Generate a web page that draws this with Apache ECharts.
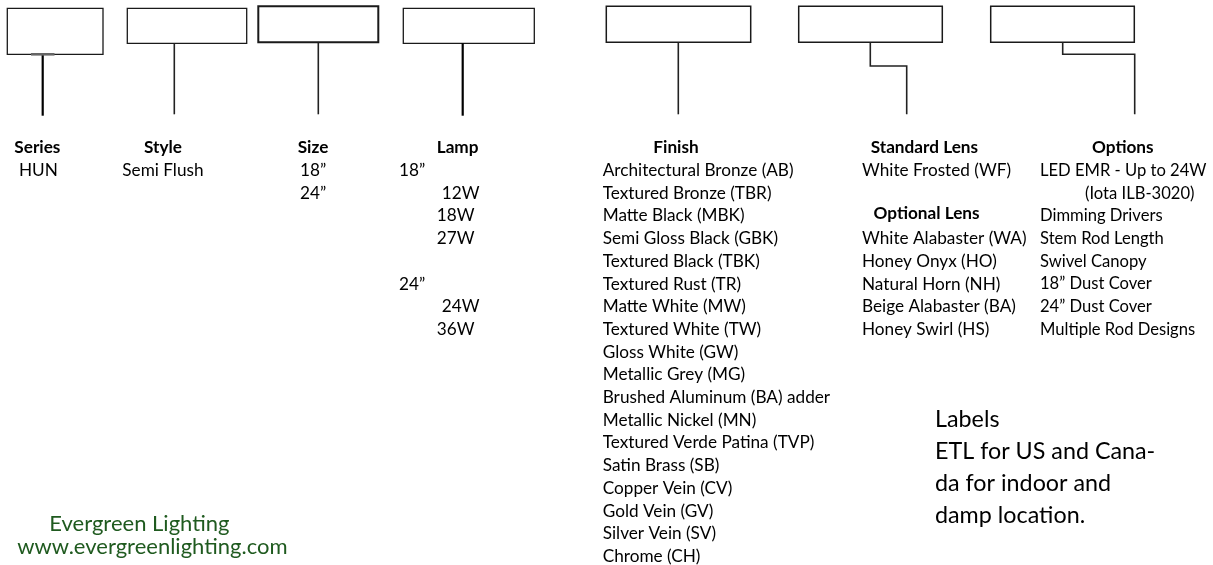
<!DOCTYPE html>
<html>
<head>
<meta charset="utf-8">
<script src="https://cdn.jsdelivr.net/npm/echarts@6/dist/echarts.min.js"></script>
<style>
html,body{margin:0;padding:0;background:#fff;}
#chart{width:1213px;height:565px;}
</style>
</head>
<body>
<div id="chart"></div>
<script>
// ---- content ----
const headings = ['Series', 'Style', 'Size', 'Lamp', 'Finish', 'Standard Lens', 'Optional Lens', 'Options'];
const seriesCol = ['HUN'];
const styleCol = ['Semi Flush'];
const sizeCol = ['18”', '24”'];
const lampCol = ['18”', '12W', '18W', '27W', '', '24”', '24W', '36W'];
const finishCol = [
  'Architectural Bronze (AB)', 'Textured Bronze (TBR)', 'Matte Black (MBK)', 'Semi Gloss Black (GBK)',
  'Textured Black (TBK)', 'Textured Rust (TR)', 'Matte White (MW)', 'Textured White (TW)',
  'Gloss White (GW)', 'Metallic Grey (MG)', 'Brushed Aluminum (BA) adder', 'Metallic Nickel (MN)',
  'Textured Verde Patina (TVP)', 'Satin Brass (SB)', 'Copper Vein (CV)', 'Gold Vein (GV)',
  'Silver Vein (SV)', 'Chrome (CH)'
];
const standardLensCol = ['White Frosted (WF)'];
const optionalLensCol = ['White Alabaster (WA)', 'Honey Onyx (HO)', 'Natural Horn (NH)', 'Beige Alabaster (BA)', 'Honey Swirl (HS)'];
const optionsCol = ['LED EMR - Up to 24W', '(Iota ILB-3020)', 'Dimming Drivers', 'Stem Rod Length', 'Swivel Canopy', '18” Dust Cover', '24” Dust Cover', 'Multiple Rod Designs'];
const labelNote = ['Labels', 'ETL for US and Cana-', 'da for indoor and', 'damp location.'];
const brand = ['Evergreen Lighting', 'www.evergreenlighting.com'];

// ---- layout (pixel space of the hidden axes) ----
const ROW0 = 170.5, ROWH = 22.7, HEADY = 147;
const FONT = 'Lato';
const BODY = 17.2, NOTE = 23.3, BRAND = 22;
const headPos = [[14.3, HEADY], [144, HEADY], [297.7, HEADY], [436.7, HEADY], [653.3, HEADY], [870.7, HEADY], [873.5, 213], [1092, HEADY]];
const columns = [
  { items: seriesCol, x: 19, start: 0 },
  { items: styleCol, x: 122.3, start: 0 },
  { items: sizeCol, x: 300, start: 0 },
  { items: lampCol, x: 399, start: 0, indent: [0, 42.7, 37.7, 37.7, 0, 0, 42.7, 37.7] },
  { items: finishCol, x: 602.7, start: 0 },
  { items: standardLensCol, x: 862, start: 0 },
  { items: optionalLensCol, x: 862, start: 3 },
  { items: optionsCol, x: 1040, start: 0, size: 16.6, indent: [0, 45, 0, 0, 0, 0, 0, 0] }
];
const boxes = [
  { r: [7.3, 8.3, 103, 54.3], w: 1.3 },
  { r: [127.3, 8.3, 246.7, 43.3], w: 1.3 },
  { r: [258.3, 6.3, 378.3, 42.3], w: 2 },
  { r: [403.3, 8.3, 534.3, 43.3], w: 1.3 },
  { r: [606.3, 6.3, 750.7, 42.3], w: 1.5 },
  { r: [798.7, 6.3, 942.3, 42.3], w: 1.5 },
  { r: [990.7, 6.3, 1134.3, 42.3], w: 1.5 }
];
const links = [
  { p: [[42.7, 54.3], [42.7, 115.7]], w: 2.2, c: '#000' },
  { p: [[174.3, 43.3], [174.3, 114.3]], w: 1.6, c: '#222' },
  { p: [[318.3, 42.3], [318.3, 114.3]], w: 1.6, c: '#222' },
  { p: [[462.7, 43.3], [462.7, 115.7]], w: 2.2, c: '#000' },
  { p: [[678.3, 42.3], [678.3, 114.3]], w: 1.6, c: '#222' },
  { p: [[870.3, 42.3], [870.3, 66], [906.7, 66], [906.7, 114.3]], w: 1.6, c: '#222' },
  { p: [[1062.7, 42.3], [1062.7, 54.3], [1134.7, 54.3], [1134.7, 114.3]], w: 1.6, c: '#222' },
  { p: [[31, 54.3], [54.5, 54.3]], w: 2.6, c: '#666' }
];

// ---- build text list ----
const texts = [];
headings.forEach((h, i) => texts.push({ x: headPos[i][0], y: headPos[i][1], t: h, font: 'bold ' + BODY + 'px ' + FONT, fill: '#000' }));
columns.forEach(col => {
  col.items.forEach((t, i) => {
    if (!t) return;
    const dx = col.indent ? col.indent[i] : 0;
    texts.push({ x: col.x + dx, y: ROW0 + (col.start + i) * ROWH, t, font: (col.size || BODY) + 'px ' + FONT, fill: '#000' });
  });
});
labelNote.forEach((t, i) => texts.push({ x: 935, y: 419.3 + i * 31.9, t, font: NOTE + 'px ' + FONT, fill: '#000' }));
const brandX = [49.3, 17.3];
brand.forEach((t, i) => texts.push({ x: brandX[i], y: 524 + i * 22.7, t, font: BRAND + 'px ' + FONT, fill: '#1f5a1f' }));

const chart = echarts.init(document.getElementById('chart'), null, { renderer: 'canvas' });
chart.setOption({
  animation: false,
  backgroundColor: '#fff',
  grid: { left: 0, right: 0, top: 0, bottom: 0 },
  xAxis: { type: 'value', min: 0, max: 1213, show: false },
  yAxis: { type: 'value', min: 0, max: 565, inverse: true, show: false },
  series: [
    {
      type: 'custom', silent: true, clip: false,
      data: boxes.map(b => [b.r[0], b.r[1]]),
      renderItem: (params, api) => {
        const b = boxes[params.dataIndex];
        const p0 = api.coord([b.r[0], b.r[1]]), p1 = api.coord([b.r[2], b.r[3]]);
        return { type: 'rect', shape: { x: p0[0], y: p0[1], width: p1[0] - p0[0], height: p1[1] - p0[1] },
          style: { fill: '#fff', stroke: '#1a1a1a', lineWidth: b.w } };
      }
    },
    {
      type: 'custom', silent: true, clip: false,
      data: links.map(l => l.p[0]),
      renderItem: (params, api) => {
        const l = links[params.dataIndex];
        return { type: 'polyline', shape: { points: l.p.map(pt => api.coord(pt)) },
          style: { fill: null, stroke: l.c, lineWidth: l.w, lineJoin: 'miter' } };
      }
    },
    {
      type: 'custom', silent: true, clip: false,
      data: texts.map(t => [t.x, t.y]),
      renderItem: (params, api) => {
        const t = texts[params.dataIndex];
        const p = api.coord([t.x, t.y]);
        return { type: 'text', x: p[0], y: p[1],
          style: { text: t.t, font: t.font, fill: t.fill, align: 'left', verticalAlign: 'middle' } };
      }
    }
  ]
});
</script>
</body>
</html>
